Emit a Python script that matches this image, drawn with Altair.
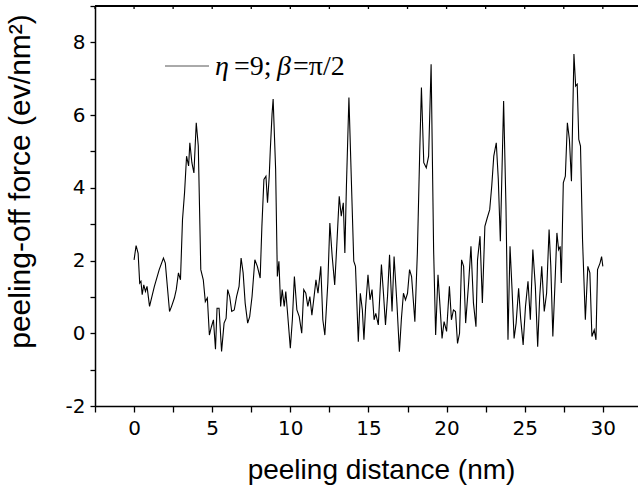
import altair as alt
import pandas as pd

distance = [
    0, 0.13, 0.26, 0.36, 0.44, 0.52, 0.62, 0.73, 0.83, 0.99,
    1.3, 1.61, 1.88, 2.0, 2.27, 2.4, 2.58, 2.7, 2.84, 2.97,
    3.1, 3.23, 3.36, 3.49, 3.57, 3.7, 3.83, 3.98, 4.11, 4.27,
    4.43, 4.56, 4.69, 4.82, 4.95, 5.08, 5.21, 5.31, 5.44, 5.6,
    5.76, 5.89, 5.99, 6.12, 6.25, 6.41, 6.56, 6.72, 6.85, 6.98,
    7.11, 7.27, 7.4, 7.55, 7.73, 7.89, 8.07, 8.18, 8.31, 8.44,
    8.54, 8.65, 8.72, 8.83, 8.9, 9.06, 9.17, 9.27, 9.38, 9.48,
    9.61, 9.71, 9.84, 10.0, 10.13, 10.26, 10.42, 10.57, 10.73, 10.86,
    10.99, 11.12, 11.25, 11.38, 11.51, 11.64, 11.77, 11.95, 12.08, 12.21,
    12.4, 12.53, 12.68, 12.84, 12.97, 13.13, 13.26, 13.39, 13.49, 13.59,
    13.75, 13.93, 14.06, 14.17, 14.35, 14.48, 14.61, 14.71, 14.82, 14.97,
    15.1, 15.23, 15.36, 15.47, 15.63, 15.83, 15.96, 16.09, 16.22, 16.35,
    16.51, 16.64, 16.82, 16.98, 17.11, 17.24, 17.37, 17.5, 17.63, 17.76,
    17.97, 18.13, 18.28, 18.39, 18.54, 18.7, 18.85, 19.01, 19.17, 19.3,
    19.45, 19.58, 19.71, 19.84, 20.0, 20.18, 20.31, 20.44, 20.57, 20.7,
    20.83, 20.96, 21.09, 21.22, 21.41, 21.56, 21.72, 21.88, 21.98, 22.14,
    22.29, 22.45, 22.6, 22.76, 22.89, 23.02, 23.18, 23.31, 23.44, 23.65,
    23.8, 23.93, 24.06, 24.19, 24.32, 24.45, 24.61, 24.74, 24.9, 25.05,
    25.21, 25.36, 25.52, 25.68, 25.83, 25.96, 26.09, 26.25, 26.4, 26.56,
    26.67, 26.8, 26.93, 27.06, 27.17, 27.27, 27.34, 27.47, 27.6, 27.73,
    27.86, 27.99, 28.15, 28.26, 28.36, 28.46, 28.57, 28.7, 28.88, 29.04,
    29.17, 29.3, 29.45, 29.56, 29.66, 29.82, 29.92, 30.0,
]
force = [
    2.02, 2.41, 2.2, 1.38, 1.43, 1.06, 1.33, 1.15, 1.29, 0.74,
    1.29, 1.75, 2.07, 1.93, 0.6, 0.74, 0.97, 1.2, 1.66, 1.47,
    3.13, 3.86, 4.87, 4.6, 5.24, 4.69, 4.41, 5.79, 5.15, 1.75,
    1.47, 0.87, 0.97, -0.05, 0.18, 0.37, -0.44, 0.69, 0.69, -0.5,
    0.28, 0.41, 1.2, 1.01, 0.6, 0.64, 1.01, 1.29, 2.07, 1.66,
    0.83, 0.28, 0.46, 1.01, 2.02, 1.84, 1.52, 2.94, 4.23, 4.32,
    3.59, 4.32, 5.06, 6.02, 6.44, 4.5, 1.56, 1.98, 0.74, 1.2,
    0.74, 1.15, 0.46, -0.41, 0.37, 1.56, 0.64, 0.46, 0.0, 1.2,
    1.1, 0.74, 1.01, 0.5, 0.97, 1.47, 1.1, 1.84, 0.37, -0.05,
    1.38, 3.03, 2.11, 1.33, 2.39, 3.77, 3.22, 3.59, 2.21, 4.05,
    6.48, 3.86, 1.98, 1.84, -0.23, 1.1, 0.64, -0.18, 0.74, 1.61,
    0.92, 1.2, 0.37, 0.55, 0.23, 1.89, 1.1, 0.23, 1.01, 2.16,
    0.6, 2.11, 0.83, -0.51, 0.41, 1.1, 0.92, 1.1, 1.75, 1.56,
    0.32, 2.21, 4.97, 6.76, 4.69, 4.55, 4.87, 7.4, 2.3, -0.05,
    1.61, 0.74, -0.14, 0.32, 0.05, 1.29, 0.37, 0.64, 0.6, -0.28,
    0.0, 2.02, 1.84, 0.28, 1.38, 2.39, 0.83, 0.18, 2.02, 2.67,
    0.83, 2.94, 3.17, 3.4, 4.05, 4.87, 5.24, 4.23, 2.53, 6.39,
    3.49, -0.18, 2.39, 1.2, -0.14, 0.28, 1.24, 0.41, -0.32, 0.74,
    1.43, 0.37, 2.3, 1.29, -0.37, 1.01, 1.84, 0.6, 1.1, 2.85,
    1.84, -0.09, 1.29, 2.76, 2.3, 2.39, 1.38, 4.14, 4.32, 5.79,
    5.33, 4.18, 7.68, 6.8, 6.85, 5.33, 5.15, 2.57, 0.37, 1.84,
    1.66, -0.09, 0.09, -0.18, 1.75, 1.93, 2.11, 1.84,
]

x_ticks = [-2.5, 0, 2.5, 5, 7.5, 10, 12.5, 15, 17.5, 20, 22.5, 25, 27.5, 30]
y_ticks = [-2, -1, 0, 1, 2, 3, 4, 5, 6, 7, 8, 9]
legend_parts = ["η", "=9;", "β", "=π/2"]

df = pd.DataFrame({"distance": distance, "force": force})

X_DOMAIN = [-2.5, 32.25]
Y_DOMAIN = [-2, 9]
FONT = "Liberation Sans"
LABEL_FONT = "DejaVu Sans"

xscale = alt.Scale(domain=X_DOMAIN, nice=False, zero=False)
yscale = alt.Scale(domain=Y_DOMAIN, nice=False, zero=False)

line = alt.Chart(df).mark_line(color="black", strokeWidth=1.1, clip=True).encode(
    x=alt.X(
        "distance:Q",
        scale=xscale,
        axis=alt.Axis(
            title="peeling distance (nm)",
            values=x_ticks,
            labelExpr="datum.value % 5 == 0 ? '' + datum.value : ''",
            grid=False,
            domainColor="black",
            domainWidth=1.5,
            tickColor="black",
            tickWidth=1.3,
            tickSize=6,
            labelFont=LABEL_FONT,
            labelFontSize=20,
            labelColor="black",
            labelPadding=6,
            labelFlush=False,
            titleFont=FONT,
            titleFontSize=28,
            titleFontWeight="normal",
            titleColor="black",
            titleX=286,
            titleY=72,
            titleAlign="center",
            titleBaseline="alphabetic",
        ),
    ),
    y=alt.Y(
        "force:Q",
        scale=yscale,
        axis=alt.Axis(
            title="peeling-off force (ev/nm²)",
            values=y_ticks,
            labelExpr="datum.value % 2 == 0 ? '' + datum.value : ''",
            grid=False,
            domainColor="black",
            domainWidth=1.5,
            tickColor="black",
            tickWidth=1.3,
            tickSize=5,
            labelFont=LABEL_FONT,
            labelFontSize=20,
            labelColor="black",
            labelPadding=5,
            labelFlush=False,
            titleFont=FONT,
            titleFontSize=30,
            titleFontWeight="normal",
            titleColor="black",
            titleAngle=270,
            titleX=-66,
            titleY=175,
            titleAlign="center",
            titleBaseline="alphabetic",
        ),
    ),
)

top_df = pd.DataFrame({"t": x_ticks})
top_border = alt.Chart(top_df).mark_rule(color="black", strokeWidth=1.5).encode(
    x=alt.value(0), x2=alt.value(543), y=alt.value(0)
)
top_ticks = alt.Chart(top_df).mark_rule(color="black", strokeWidth=1.3).encode(
    x=alt.X("t:Q", scale=xscale), y=alt.value(0), y2=alt.value(3)
)

leg_df = pd.DataFrame({"a": [0]})
leg_line = alt.Chart(leg_df).mark_rule(color="#555555", strokeWidth=1).encode(
    x=alt.value(70), x2=alt.value(114), y=alt.value(60)
)
leg_x = [120, 139, 182, 198]
leg_style = ["italic", "normal", "italic", "normal"]
leg_texts = []
for part, px, st in zip(legend_parts, leg_x, leg_style):
    leg_texts.append(
        alt.Chart(leg_df).mark_text(
            align="left", baseline="alphabetic", font="Liberation Serif",
            fontSize=28, fontStyle=st, color="black"
        ).encode(x=alt.value(px), y=alt.value(69), text=alt.value(part))
    )

chart = alt.layer(line, top_border, top_ticks, leg_line, *leg_texts).properties(
    width=543, height=400,
    autosize="none",
    padding={"left": 95, "top": 6, "right": 0, "bottom": 81},
).configure_view(stroke=None).configure(background="white")

chart.save("out.html", embed_options={"renderer": "svg", "actions": False})
